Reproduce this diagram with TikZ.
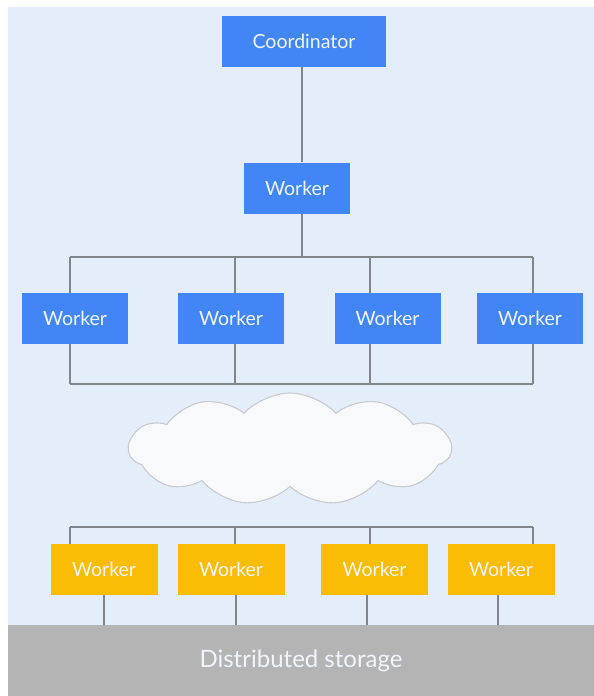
\documentclass[tikz,border=0pt]{standalone}
\usepackage{fontspec}
\setmainfont{Lato}
\usepackage{tikz}
\usetikzlibrary{shapes.symbols, positioning, calc}
\definecolor{mybg}{RGB}{228,238,251}
\definecolor{myblue}{RGB}{66,133,244}
\definecolor{myyellow}{RGB}{251,188,4}
\definecolor{mystore}{RGB}{180,180,180}
\definecolor{mywire}{RGB}{128,134,140}
\definecolor{mycloud}{RGB}{248,249,250}
\definecolor{mycloudline}{RGB}{200,202,206}
\definecolor{mytext}{RGB}{240,245,253}
\tikzset{
  bluebox/.style={rectangle, fill=myblue, text=mytext,
    minimum width=106pt, minimum height=51pt, inner sep=0pt,
    font=\fontsize{19.5}{22}\selectfont},
  yellowbox/.style={rectangle, fill=myyellow, text=mytext,
    minimum width=107pt, minimum height=51pt, inner sep=0pt,
    font=\fontsize{19.5}{22}\selectfont},
  wire/.style={line width=1.5pt, color=mywire}
}
\begin{document}
\begin{tikzpicture}[x=1pt, y=-1pt]
  \useasboundingbox (0,0) rectangle (594,696);
  \fill[mybg] (8,7) rectangle (594,625);

  \node[bluebox, minimum width=164pt] (coord) at (304,41) {Coordinator};
  \node[bluebox] (w0) at (297,188) {Worker};

  \node[bluebox] (w1) at (75,318.5) {Worker};
  \node[bluebox] (w2) at (231,318.5) {Worker};
  \node[bluebox] (w3) at (387.5,318.5) {Worker};
  \node[bluebox] (w4) at (530,318.5) {Worker};

  \node[cloud, cloud puffs=11, cloud puff arc=95, aspect=3,
    fill=mycloud, draw=mycloudline, line width=1.1pt,
    minimum width=322pt, minimum height=112pt] (net) at (290,449) {};

  \node[yellowbox] (y1) at (104,569.5) {Worker};
  \node[yellowbox] (y2) at (231,569.5) {Worker};
  \node[yellowbox] (y3) at (374.5,569.5) {Worker};
  \node[yellowbox] (y4) at (501,569.5) {Worker};

  \node[rectangle, fill=mystore, text=mytext, minimum width=586pt,
    minimum height=71pt, inner sep=0pt,
    font=\fontsize{24}{28}\selectfont] (store) at (301,660.5) {Distributed storage};

  % Bus points
  \coordinate (trunk) at (302,257);
  \foreach \i/\x in {1/70, 2/235, 3/370, 4/533} {
    \coordinate (ba\i) at (\x,257);
    \coordinate (bb\i) at (\x,384);
    \coordinate (bc\i) at (\x,527);
  }
  \foreach \i/\x in {1/104, 2/236, 3/367, 4/498}
    \coordinate (sd\i) at (\x,625);

  % Edges
  \draw[wire] (trunk |- coord.south) -- (trunk |- w0.north);
  \draw[wire] (trunk |- w0.south) -- (trunk);
  \draw[wire] (ba1) -- (ba4);
  \draw[wire] (bb1) -- (bb4);
  \draw[wire] (bc1) -- (bc4);
  \foreach \i in {1,2,3,4} {
    \draw[wire] (ba\i) -- (ba\i |- w\i.north);
    \draw[wire] (bb\i |- w\i.south) -- (bb\i);
    \draw[wire] (bc\i) -- (bc\i |- y\i.north);
    \draw[wire] (sd\i |- y\i.south) -- (sd\i);
  }
\end{tikzpicture}
\end{document}
